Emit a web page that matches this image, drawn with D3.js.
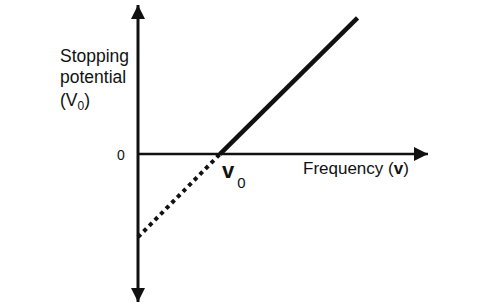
<!DOCTYPE html>
<html><head><meta charset="utf-8">
<script src="https://cdn.jsdelivr.net/npm/d3@7/dist/d3.min.js"></script>
<style>body{margin:0;background:#fff}svg{display:block}text{font-family:"Liberation Sans",Arial,sans-serif;fill:#111}</style>
</head><body>
<script>
// Data (arbitrary units): threshold frequency v0 = 1
const freqSolid = [1, 2.68];
const potSolid = [0, 1.64];
const freqDashed = [0, 1];
const potDashed = [-1, 0];
const xDomain = [0, 3.54];
const yDomain = [-1.78, 1.795];

const W = 484, H = 308;
const svg = d3.select("body").append("svg").attr("width", W).attr("height", H);
const x = d3.scaleLinear().domain(xDomain).range([138, 428]);
const y = d3.scaleLinear().domain(yDomain).range([302, 5]);

// arrow marker
const defs = svg.append("defs");
defs.append("marker").attr("id", "ah").attr("viewBox", "0 0 10 10")
  .attr("refX", 10).attr("refY", 5).attr("markerWidth", 14).attr("markerHeight", 17)
  .attr("markerUnits", "userSpaceOnUse").attr("orient", "auto")
  .append("path").attr("d", "M0,0 L10,5 L0,10 Z").attr("fill", "#111");

// axes
svg.append("line").attr("x1", x(0)).attr("x2", x(0)).attr("y1", y(0)).attr("y2", y(yDomain[1]))
  .attr("stroke", "#111").attr("stroke-width", 3).attr("marker-end", "url(#ah)");
svg.append("line").attr("x1", x(0)).attr("x2", x(0)).attr("y1", y(0)).attr("y2", y(yDomain[0]))
  .attr("stroke", "#111").attr("stroke-width", 3).attr("marker-end", "url(#ah)");
svg.append("line").attr("x1", x(0) - 1).attr("x2", x(xDomain[1])).attr("y1", y(0)).attr("y2", y(0))
  .attr("stroke", "#111").attr("stroke-width", 2.5).attr("marker-end", "url(#ah)");

const line = d3.line().x(d => x(d[0])).y(d => y(d[1]));
svg.append("path").attr("d", line(d3.zip(freqSolid, potSolid)))
  .attr("stroke", "#111").attr("stroke-width", 4.5).attr("fill", "none");
svg.append("path").attr("d", line(d3.zip(freqDashed, potDashed)))
  .attr("stroke", "#111").attr("stroke-width", 4).attr("fill", "none")
  .attr("stroke-dasharray", "4,4");

// labels
const yl = svg.append("text").attr("x", 60).attr("font-size", 17.5);
yl.append("tspan").attr("x", 60).attr("y", 62).text("Stopping");
yl.append("tspan").attr("x", 60).attr("y", 83).text("potential");
const t3 = svg.append("text").attr("x", 60).attr("y", 106).attr("font-size", 17.5);
t3.append("tspan").text("(V");
t3.append("tspan").attr("font-size", 12).attr("dy", 4).text("0");
t3.append("tspan").attr("dy", -4).text(")");

svg.append("text").attr("x", 121).attr("y", 160).attr("font-size", 14).attr("text-anchor", "middle").text("0");

const v0 = svg.append("text").attr("x", 222).attr("y", 178);
v0.append("tspan").attr("font-size", 22).attr("font-weight", "bold").text("v");
v0.append("tspan").attr("font-size", 15).attr("dx", 3).attr("dy", 10).text("0");

const fl = svg.append("text").attr("x", 303).attr("y", 174).attr("font-size", 17);
fl.append("tspan").text("Frequency (");
fl.append("tspan").attr("font-weight", "bold").text("v");
fl.append("tspan").text(")");
</script>
</body></html>
